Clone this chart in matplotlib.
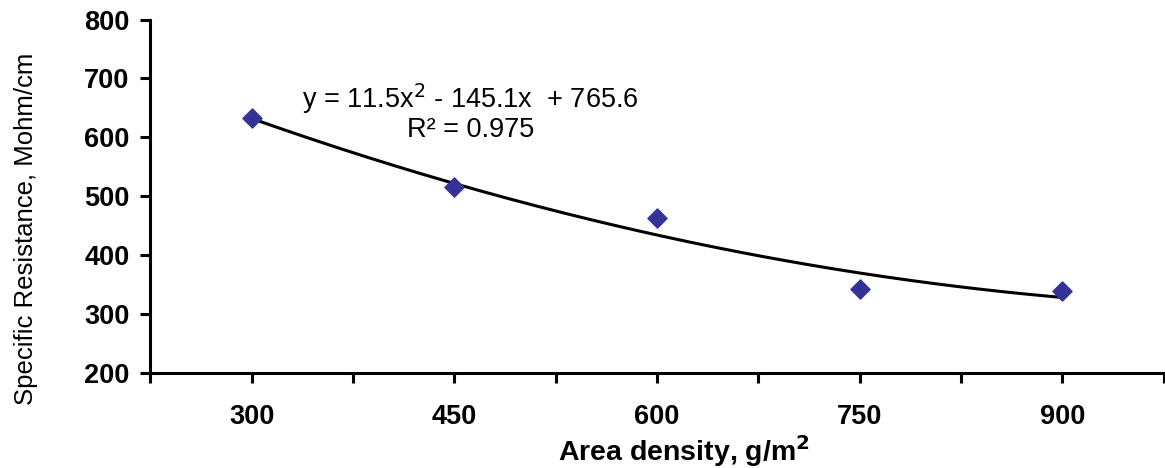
import numpy as np
import matplotlib.pyplot as plt

plt.rcParams['font.family'] = ['Liberation Sans', 'DejaVu Sans']

# data
density = ['300', '450', '600', '750', '900']
resistance = [632, 515, 462, 342, 338]
# Excel polynomial trend line (x = category index 1..5)
coef = [11.5, -145.1, 765.6]
r2 = 0.975

x_pos = np.arange(1, len(density) + 1)

fig = plt.figure(figsize=(11.65, 4.68), dpi=100)
ax = fig.add_axes([0.129, 0.204, 0.870, 0.754])

xs = np.linspace(1, 5, 200)
ax.plot(xs, np.polyval(coef, xs), color='black', lw=2.2, zorder=2)
ax.scatter(x_pos, resistance, marker='D', s=95, color='#333399', zorder=3)

ax.set_xlim(0.5, 5.5)
ax.set_ylim(200, 800)
ax.set_yticks(np.arange(200, 801, 100))
ticks = np.arange(0.5, 5.51, 0.5)
ax.set_xticks(ticks)
ax.set_xticklabels(['' if t % 1 else density[int(t) - 1] for t in ticks])

for s in ['top', 'right']:
    ax.spines[s].set_visible(False)
for s in ['left', 'bottom']:
    ax.spines[s].set_linewidth(2.2)
ax.tick_params(axis='both', direction='out', width=2.2, length=7,
               labelsize=19.5)
ax.tick_params(axis='x', pad=16)
ax.tick_params(axis='y', pad=8)
for lab in ax.get_xticklabels() + ax.get_yticklabels():
    lab.set_fontweight('bold')

ax.set_xlabel('Area density, g/m$^\\mathbf{2}$', fontsize=20.5, fontweight='bold')
ax.xaxis.set_label_coords(0.527, -0.172, transform=ax.transAxes)
ax.xaxis.label.set_va('top')
ax.set_ylabel('Specific Resistance, Mohm/cm', fontsize=18.5)
ax.yaxis.set_label_coords(-0.123, 0.406, transform=ax.transAxes)
ax.yaxis.label.set_va('center')

ax.text(2.08, 666, 'y = %.1fx$^2$ - %.1fx  + %.1f' % (coef[0], -coef[1], coef[2]),
        fontsize=19.5, ha='center', va='center')
ax.text(2.08, 612, 'R² = %.3f' % r2, fontsize=19.5, ha='center', va='center')

fig.savefig('out.png')
